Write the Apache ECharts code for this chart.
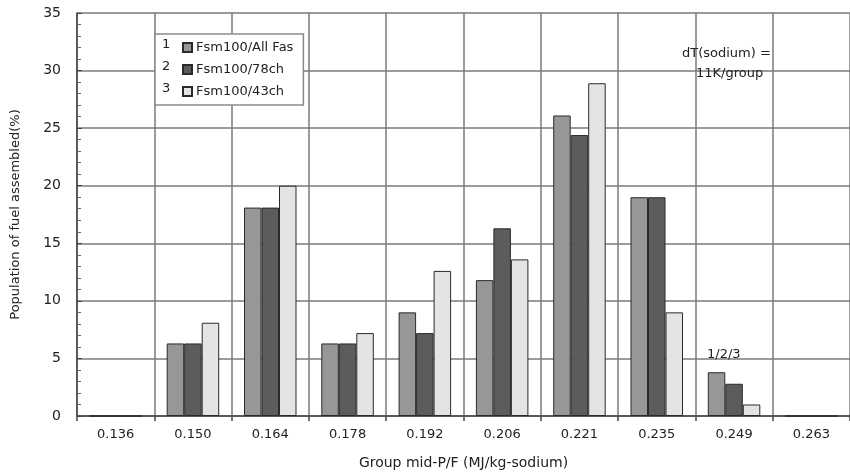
<!DOCTYPE html>
<html>
<head>
<meta charset="utf-8">
<script src="https://cdn.jsdelivr.net/npm/echarts@6/dist/echarts.min.js"></script>
<style>
  html, body { margin: 0; padding: 0; background: #fff; }
  #chart { width: 850px; height: 475px; }
</style>
</head>
<body>
<div id="chart"></div>
<script>
// Group mid-P/F classes (MJ/kg-sodium)
const categories = ['0.136', '0.150', '0.164', '0.178', '0.192', '0.206', '0.221', '0.235', '0.249', '0.263'];

// Population of fuel assemblies per class (%)
const seriesNames = ['Fsm100/All Fas', 'Fsm100/78ch', 'Fsm100/43ch'];
const allFas = [0, 6.3, 18.1, 6.3, 9.0, 11.8, 26.1, 19.0, 3.8, 0];
const ch78   = [0, 6.3, 18.1, 6.3, 7.2, 16.3, 24.4, 19.0, 2.8, 0];
const ch43   = [0, 8.1, 20.0, 7.2, 12.6, 13.6, 28.9, 9.0, 1.0, 0];

const FONT = 'DejaVu Sans';
const fills = ['#979797', '#5c5c5c', '#e4e4e4'];
const values = [allFas, ch78, ch43];

const chart = echarts.init(document.getElementById('chart'), null, { renderer: 'canvas' });

chart.setOption({
  animation: false,
  backgroundColor: '#ffffff',
  textStyle: { fontFamily: FONT, color: '#222' },
  grid: { left: 77, top: 13, right: -4, bottom: 54, containLabel: false },
  legend: {
    orient: 'vertical',
    left: 155,
    top: 34,
    width: 150,
    height: 69,
    padding: [7, 10, 7, 27],
    itemWidth: 9,
    itemHeight: 9,
    itemGap: 9,
    backgroundColor: '#ffffff',
    borderColor: '#8a8a8a',
    borderWidth: 1.5,
    icon: 'rect',
    textStyle: { fontFamily: FONT, fontSize: 13, color: '#222', padding: [0, 0, 0, -1] },
    data: seriesNames
  },
  xAxis: {
    type: 'category',
    data: categories,
    name: 'Group mid-P/F (MJ/kg-sodium)',
    nameLocation: 'middle',
    nameGap: 40,
    nameTextStyle: { fontFamily: FONT, fontSize: 14, color: '#222' },
    axisLine: { lineStyle: { color: '#444', width: 1.5 } },
    axisTick: { show: true, length: 5, lineStyle: { color: '#444', width: 1.5 } },
    axisLabel: { fontFamily: FONT, fontSize: 13, color: '#222', margin: 12 },
    splitLine: { show: true, lineStyle: { color: '#7a7a7a', width: 1.5 } }
  },
  yAxis: {
    type: 'value',
    min: 0,
    max: 35,
    interval: 5,
    name: 'Population of fuel assembled(%)',
    nameLocation: 'middle',
    nameGap: 55,
    nameTextStyle: { fontFamily: FONT, fontSize: 13, color: '#222' },
    axisLine: { show: true, lineStyle: { color: '#444', width: 1.5 } },
    axisTick: { show: true, inside: true, length: 5, lineStyle: { color: '#444' } },
    minorTick: { show: true, splitNumber: 5, length: 4, lineStyle: { color: '#666' } },
    axisLabel: { fontFamily: FONT, fontSize: 14, color: '#222', margin: 16 },
    splitLine: { show: true, lineStyle: { color: '#7a7a7a', width: 1.5 } }
  },
  series: seriesNames.map((name, i) => ({
    name: name,
    type: 'bar',
    data: values[i],
    barWidth: 17.5,
    barGap: '0%',
    itemStyle: { color: fills[i], borderColor: '#2a2a2a', borderWidth: 1 },
    emphasis: { disabled: true }
  })),
  graphic: {
    elements: [
      // series numbers beside the legend swatches
      { type: 'text', z: 100, left: 162, top: 38, style: { text: '1', font: '13px ' + FONT, fill: '#222' } },
      { type: 'text', z: 100, left: 162, top: 60, style: { text: '2', font: '13px ' + FONT, fill: '#222' } },
      { type: 'text', z: 100, left: 162, top: 82, style: { text: '3', font: '13px ' + FONT, fill: '#222' } },
      // bin width note
      { type: 'text', z: 100, left: 682, top: 47, style: { text: 'dT(sodium) =', font: '13px ' + FONT, fill: '#222' } },
      { type: 'text', z: 100, left: 696, top: 67, style: { text: '11K/group', font: '13px ' + FONT, fill: '#222' } },
      // series order marker over the 0.249 group
      { type: 'text', z: 100, left: 707, top: 348, style: { text: '1/2/3', font: '13px ' + FONT, fill: '#222' } }
    ]
  }
});
</script>
</body>
</html>
